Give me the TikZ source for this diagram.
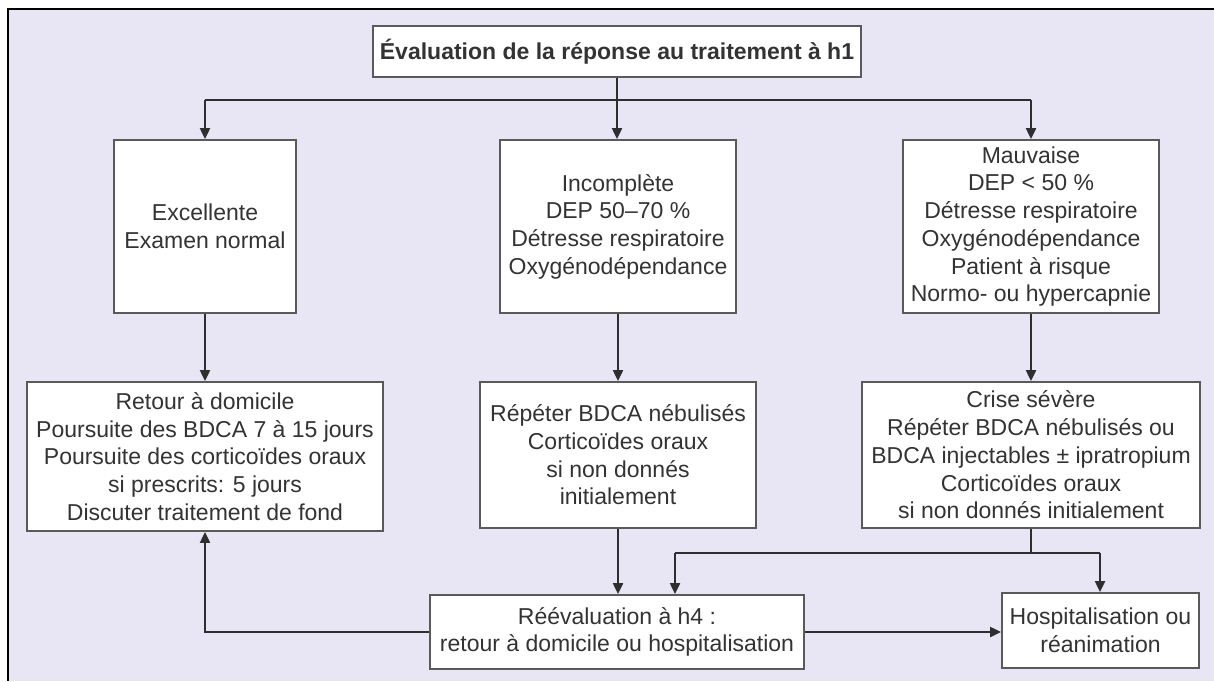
\documentclass[tikz,border=0pt]{standalone}
\usepackage{fontspec}
\setmainfont{Liberation Sans}
\usetikzlibrary{arrows.meta}
\definecolor{bgl}{HTML}{E8E6F5}
\definecolor{boxline}{HTML}{5A5A5A}
\definecolor{arr}{HTML}{2E2E2E}
\definecolor{txt}{HTML}{333333}
\begin{document}
\begin{tikzpicture}[x=1pt,y=-1pt,
  box/.style={draw=boxline, line width=1.8pt, fill=white, align=center, text=txt,
    font=\fontsize{23}{27.7}\selectfont, inner sep=0pt},
  conn/.style={draw=arr, line width=2pt},
  arrw/.style={conn, -{Triangle[length=11pt,width=10pt]}}]
\useasboundingbox (0,0) rectangle (1214,681);
\fill[white] (0,0) rectangle (1214,681);
\fill[bgl] (8,9) rectangle (1214,681);
\draw[black, line width=2.5pt] (8,681) -- (8,9) -- (1214,9);

\node[box, minimum width=488pt, minimum height=51pt] (top) at (617,51.5)
  {\bfseries Évaluation de la réponse au traitement à h1};

\node[box, minimum width=182pt, minimum height=173pt] (exc) at (205,226.5)
  {Excellente\\Examen normal};
\node[box, minimum width=236pt, minimum height=173pt] (inc) at (618,226.5)
  {Incomplète\\DEP 50–70 \%\\Détresse respiratoire\\Oxygénodépendance};
\node[box, minimum width=256pt, minimum height=173pt] (mau) at (1031,226.5)
  {Mauvaise\\DEP < 50 \%\\Détresse respiratoire\\Oxygénodépendance\\Patient à risque\\Normo- ou hypercapnie};

\node[box, minimum width=356pt, minimum height=149pt] (ret) at (205,456.5)
  {Retour à domicile\\Poursuite des BDCA 7 à 15 jours\\Poursuite des corticoïdes oraux\\si prescrits: 5 jours\\Discuter traitement de fond};
\node[box, minimum width=276pt, minimum height=146pt] (rep) at (618,455)
  {Répéter BDCA nébulisés\\Corticoïdes oraux\\si non donnés\\initialement};
\node[box, minimum width=338pt, minimum height=146pt] (cri) at (1031,455)
  {Crise sévère\\Répéter BDCA nébulisés ou\\BDCA injectables ± ipratropium\\Corticoïdes oraux\\si non donnés initialement};

\node[box, minimum width=374pt, minimum height=74pt] (ree) at (617,632)
  {Réévaluation à h4 :\\retour à domicile ou hospitalisation};
\node[box, minimum width=197pt, minimum height=75pt] (hos) at (1100.5,630.5)
  {Hospitalisation ou\\réanimation};

% top branching
\coordinate (bj) at (617,100);
\draw[conn] (top.south) -- (bj);
\draw[conn] (bj -| exc.north) -- (bj -| mau.north);
\draw[arrw] (bj -| exc.north) -- (exc.north);
\draw[arrw] (bj) -- (bj |- inc.north);
\draw[arrw] (bj -| mau.north) -- (mau.north);

% row 1 to row 2
\draw[arrw] (exc.south) -- (exc.south |- ret.north);
\draw[arrw] (inc.south) -- (inc.south |- rep.north);
\draw[arrw] (mau.south) -- (mau.south |- cri.north);

% row 2 to bottom
\draw[arrw] (rep.south) -- (rep.south |- ree.north);
\coordinate (cj) at (1031,553);
\coordinate (cl) at (675,553);
\coordinate (cr) at (1100,553);
\draw[conn] (cri.south) -- (cj);
\draw[conn] (cl) -- (cr);
\draw[arrw] (cl) -- (cl |- ree.north);
\draw[arrw] (cr) -- (cr |- hos.north);

% reevaluation exits
\coordinate (rl) at (205,632);
\draw[arrw] (ree.west) -- (rl) -- (rl |- ret.south);
\draw[arrw] (ree.east) -- (ree.east -| hos.west);
\end{tikzpicture}
\end{document}
